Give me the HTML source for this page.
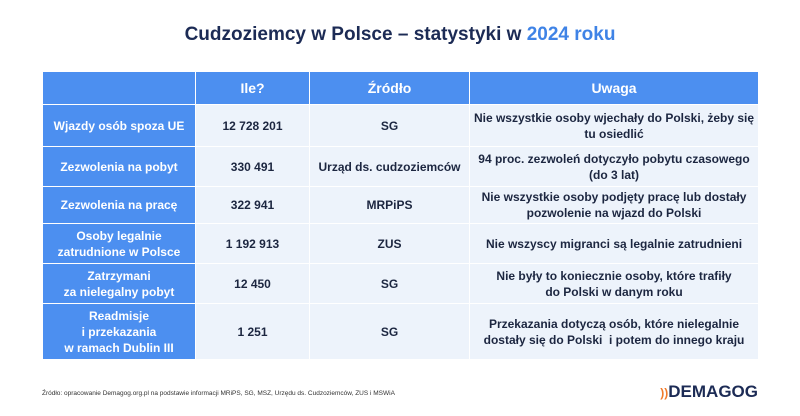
<!DOCTYPE html>
<html><head><meta charset="utf-8"><style>
body{margin:0;width:800px;height:416px;background:#fff;font-family:"Liberation Sans","DejaVu Sans",sans-serif;position:relative;overflow:hidden}
h1{position:absolute;top:24px;left:0;width:800px;text-align:center;margin:0;font-size:19px;font-weight:bold;color:#1c2b55}
h1 span{color:#3f83e6}
table{position:absolute;left:42px;top:71px;border-collapse:collapse;table-layout:fixed;width:716px}
td,th{border:1.5px solid #fff;text-align:center;font-weight:bold;font-size:12px;color:#1c2640;line-height:16px;padding:0}
th{background:#4c8ff0;color:#fff;font-size:14px;height:32px}
td{background:#edf3fb}
td.l{background:#4c8ff0;color:#fff}
.src{position:absolute;left:42px;top:390px;font-size:6.5px;color:#333}
.logo{position:absolute;right:42px;top:382px;font-size:17px;font-weight:bold;color:#1c2b55;letter-spacing:0}
.logo span{color:#f07a2a;font-size:12px}
</style></head><body>
<h1>Cudzoziemcy w Polsce – statystyki w <span>2024 roku</span></h1>
<table>
<colgroup><col style="width:153px"><col style="width:114px"><col style="width:160px"><col style="width:289px"></colgroup>
<tr><th></th><th>Ile?</th><th>Źródło</th><th>Uwaga</th></tr>
<tr style="height:42px"><td class="l">Wjazdy osób spoza UE</td><td>12 728 201</td><td>SG</td><td>Nie wszystkie osoby wjechały do Polski, żeby się<br>tu osiedlić</td></tr>
<tr style="height:40px"><td class="l">Zezwolenia na pobyt</td><td>330 491</td><td>Urząd ds. cudzoziemców</td><td>94 proc. zezwoleń dotyczyło pobytu czasowego<br>(do 3 lat)</td></tr>
<tr style="height:37px"><td class="l">Zezwolenia na pracę</td><td>322 941</td><td>MRPiPS</td><td>Nie wszystkie osoby podjęty pracę lub dostały<br>pozwolenie na wjazd do Polski</td></tr>
<tr style="height:40px"><td class="l">Osoby legalnie<br>zatrudnione w Polsce</td><td>1 192 913</td><td>ZUS</td><td>Nie wszyscy migranci są legalnie zatrudnieni</td></tr>
<tr style="height:40px"><td class="l">Zatrzymani<br>za nielegalny pobyt</td><td>12 450</td><td>SG</td><td>Nie były to koniecznie osoby, które trafiły<br>do Polski w danym roku</td></tr>
<tr style="height:56px"><td class="l">Readmisje<br>i przekazania<br>w ramach Dublin III</td><td>1 251</td><td>SG</td><td>Przekazania dotyczą osób, które nielegalnie<br>dostały się do Polski &nbsp;i potem do innego kraju</td></tr>
</table>
<div class="src">Źródło: opracowanie Demagog.org.pl na podstawie informacji MRiPS, SG, MSZ, Urzędu ds. Cudzoziemców, ZUS i MSWiA</div>
<div class="logo"><span>))</span>DEMAGOG</div>
</body></html>
